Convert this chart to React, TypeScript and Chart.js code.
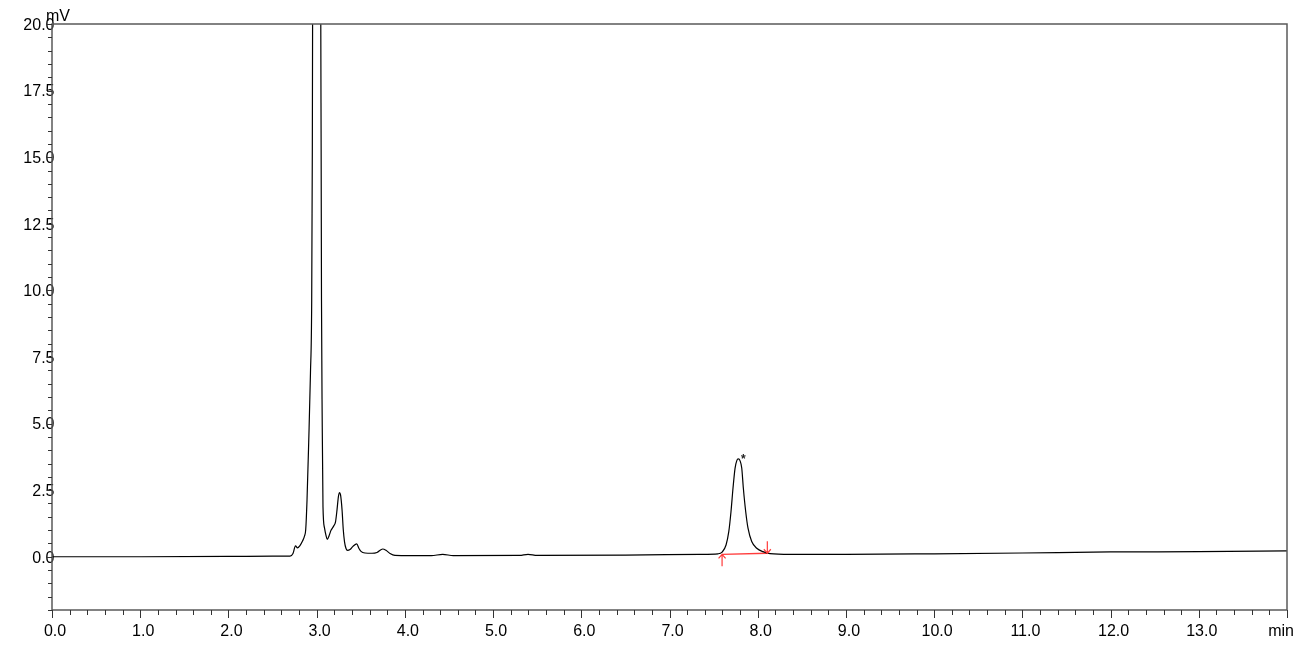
import React, { useEffect, useRef } from "react";
import { Chart, registerables } from "chart.js";

Chart.register(...registerables);

// Retention time (min) and detector signal (mV)
const times: number[] = [
  0.0, 1.0, 2.0, 2.5, 2.698, 2.732, 2.76, 2.783, 2.811, 2.84, 2.863, 2.876, 2.891, 2.91, 2.93, 2.944,
  2.951, 2.954, 3.0, 3.047, 3.051, 3.055, 3.063, 3.072, 3.089, 3.106, 3.121, 3.14, 3.163, 3.191,
  3.214, 3.231, 3.246, 3.259, 3.271, 3.288, 3.302, 3.316, 3.333, 3.35, 3.378, 3.412, 3.454, 3.48,
  3.503, 3.548, 3.628, 3.684, 3.749, 3.786, 3.832, 3.888, 4.059, 4.3, 4.429, 4.55, 5.3, 5.396,
  5.5, 6.5, 7.346, 7.55, 7.596, 7.641, 7.672, 7.697, 7.72, 7.743, 7.762, 7.78, 7.8, 7.819, 7.837,
  7.864, 7.89, 7.932, 7.989, 8.06, 8.14, 8.366, 9.0, 10.0, 11.0, 12.0, 13.0, 14.0,
];
const signal: number[] = [
  0.0, 0.0, 0.01, 0.02, 0.02, 0.12, 0.41, 0.33, 0.42, 0.59, 0.78, 1.01, 2.13, 4.3, 6.9, 9.64,
  15.27, 20.0, 120.0, 20.0, 15.27, 9.64, 5.13, 1.87, 1.08, 0.8, 0.65, 0.78, 0.99, 1.14,
  1.31, 1.76, 2.24, 2.41, 2.32, 1.76, 1.01, 0.56, 0.31, 0.24, 0.27, 0.39, 0.48, 0.31,
  0.2, 0.14, 0.13, 0.16, 0.29, 0.24, 0.12, 0.05, 0.04, 0.04, 0.09, 0.04, 0.05, 0.09,
  0.05, 0.06, 0.09, 0.11, 0.17, 0.44, 0.94, 1.69, 2.58, 3.32, 3.6, 3.67, 3.6, 3.33, 2.58,
  1.69, 1.07, 0.57, 0.32, 0.19, 0.12, 0.09, 0.09, 0.11, 0.14, 0.18, 0.19, 0.22,
];

// Integration baseline of the marked peak (start, end)
const baselineTimes: number[] = [7.596, 8.109];
const baselineValues: number[] = [0.09, 0.13];
// Marked peak apex
const peakTime = 7.78;
const peakValue = 3.67;
const peakLabel = "*";

// Axis ticks
const xMajorTicks: number[] = [0, 1, 2, 3, 4, 5, 6, 7, 8, 9, 10, 11, 12, 13];
const yMajorTicks: number[] = [0, 2.5, 5, 7.5, 10, 12.5, 15, 17.5, 20];
const xUnit = "min";
const yUnit = "mV";

const FONT = "'Liberation Sans', Arial, sans-serif";

const decorPlugin = {
  id: "decor",
  afterDraw(chart: any) {
    const ctx = chart.ctx;
    const { left, right, top, bottom } = chart.chartArea;
    const xs = chart.scales.x;
    const ys = chart.scales.y;
    ctx.save();

    // y tick labels (drawn under the axis line, as in the reference)
    ctx.fillStyle = "#000";
    ctx.font = `16px ${FONT}`;
    ctx.textAlign = "right";
    ctx.textBaseline = "middle";
    yMajorTicks.forEach((v) => {
      ctx.fillText(v.toFixed(1), left + 2.5, ys.getPixelForValue(v) + 1.5);
    });

    // frame
    ctx.strokeStyle = "#5a5a5a";
    ctx.lineWidth = 1.5;
    ctx.strokeRect(left, top, right - left, bottom - top);

    // y ticks (minor every 0.5)
    ctx.strokeStyle = "#333";
    ctx.lineWidth = 1;
    for (let i = -4; i <= 40; i++) {
      const v = i * 0.5;
      const major = Math.abs(v / 2.5 - Math.round(v / 2.5)) < 1e-6;
      const py = Math.round(ys.getPixelForValue(v)) + 0.5;
      ctx.beginPath();
      ctx.moveTo(left, py);
      ctx.lineTo(left - (major ? 5 : 4), py);
      ctx.stroke();
    }
    // x ticks (minor every 0.2)
    for (let i = 0; i <= 70; i++) {
      const t = i * 0.2;
      const major = Math.abs(t - Math.round(t)) < 1e-6;
      const px = Math.round(xs.getPixelForValue(t)) + 0.5;
      ctx.beginPath();
      ctx.moveTo(px, bottom);
      ctx.lineTo(px, bottom + (major ? 8 : 5));
      ctx.stroke();
    }

    // integration markers (arrows)
    ctx.strokeStyle = "#ff3b3b";
    ctx.lineWidth = 1.2;
    const sx = xs.getPixelForValue(baselineTimes[0]);
    const sy = ys.getPixelForValue(baselineValues[0]);
    ctx.beginPath();
    ctx.moveTo(sx, sy + 12);
    ctx.lineTo(sx, sy);
    ctx.moveTo(sx - 3.5, sy + 4);
    ctx.lineTo(sx, sy);
    ctx.lineTo(sx + 3.5, sy + 4);
    ctx.stroke();
    const ex = xs.getPixelForValue(baselineTimes[1]);
    const ey = ys.getPixelForValue(baselineValues[1]);
    ctx.beginPath();
    ctx.moveTo(ex, ey - 12);
    ctx.lineTo(ex, ey);
    ctx.moveTo(ex - 3.5, ey - 4);
    ctx.lineTo(ex, ey);
    ctx.lineTo(ex + 3.5, ey - 4);
    ctx.stroke();

    // peak label
    ctx.fillStyle = "#222";
    ctx.font = `bold 12px ${FONT}`;
    ctx.textAlign = "center";
    ctx.textBaseline = "middle";
    ctx.fillText(peakLabel, xs.getPixelForValue(peakTime) + 5, ys.getPixelForValue(peakValue) + 1);

    // units
    ctx.fillStyle = "#000";
    ctx.font = `16px ${FONT}`;
    ctx.textAlign = "left";
    ctx.textBaseline = "alphabetic";
    ctx.fillText(yUnit, left - 6, top - 3);
    ctx.textAlign = "right";
    ctx.fillText(xUnit, right + 7, bottom + 26);
    ctx.restore();
  },
};

export default function App() {
  const ref = useRef<HTMLCanvasElement | null>(null);
  useEffect(() => {
    if (!ref.current) return;
    const chart = new Chart(ref.current, {
      type: "line",
      data: {
        datasets: [
          {
            data: times.map((t, i) => ({ x: t, y: signal[i] })),
            borderColor: "#000",
            borderWidth: 1.2,
            pointRadius: 0,
            cubicInterpolationMode: "monotone",
            fill: false,
          },
          {
            data: baselineTimes.map((t, i) => ({ x: t, y: baselineValues[i] })),
            borderColor: "#ff3b3b",
            borderWidth: 1.3,
            pointRadius: 0,
            fill: false,
          },
        ],
      },
      options: {
        animation: false,
        responsive: true,
        maintainAspectRatio: false,
        layout: { padding: { left: 0, right: 12, top: 24, bottom: 0 } },
        plugins: { legend: { display: false }, tooltip: { enabled: false } },
        scales: {
          x: {
            type: "linear",
            min: 0,
            max: 14,
            grid: { display: false, drawTicks: false },
            border: { display: false },
            afterBuildTicks: (s: any) => {
              s.ticks = xMajorTicks.map((v) => ({ value: v }));
            },
            afterFit: (s: any) => {
              s.height = 48;
            },
            ticks: {
              callback: (v: any) => Number(v).toFixed(1),
              color: "#000",
              font: { family: FONT, size: 16 },
              padding: 12,
              labelOffset: 3,
              maxRotation: 0,
              autoSkip: false,
            },
          },
          y: {
            type: "linear",
            min: -2,
            max: 20,
            grid: { display: false, drawTicks: false },
            border: { display: false },
            afterBuildTicks: (s: any) => {
              s.ticks = yMajorTicks.map((v) => ({ value: v }));
            },
            afterFit: (s: any) => {
              s.width = 52;
            },
            ticks: { display: false },
          },
        },
      },
      plugins: [decorPlugin],
    });
    return () => chart.destroy();
  }, []);
  return (
    <div style={{ position: "fixed", left: 0, top: 0, width: 1299, height: 658, background: "#fff" }}>
      <canvas ref={ref} />
    </div>
  );
}
